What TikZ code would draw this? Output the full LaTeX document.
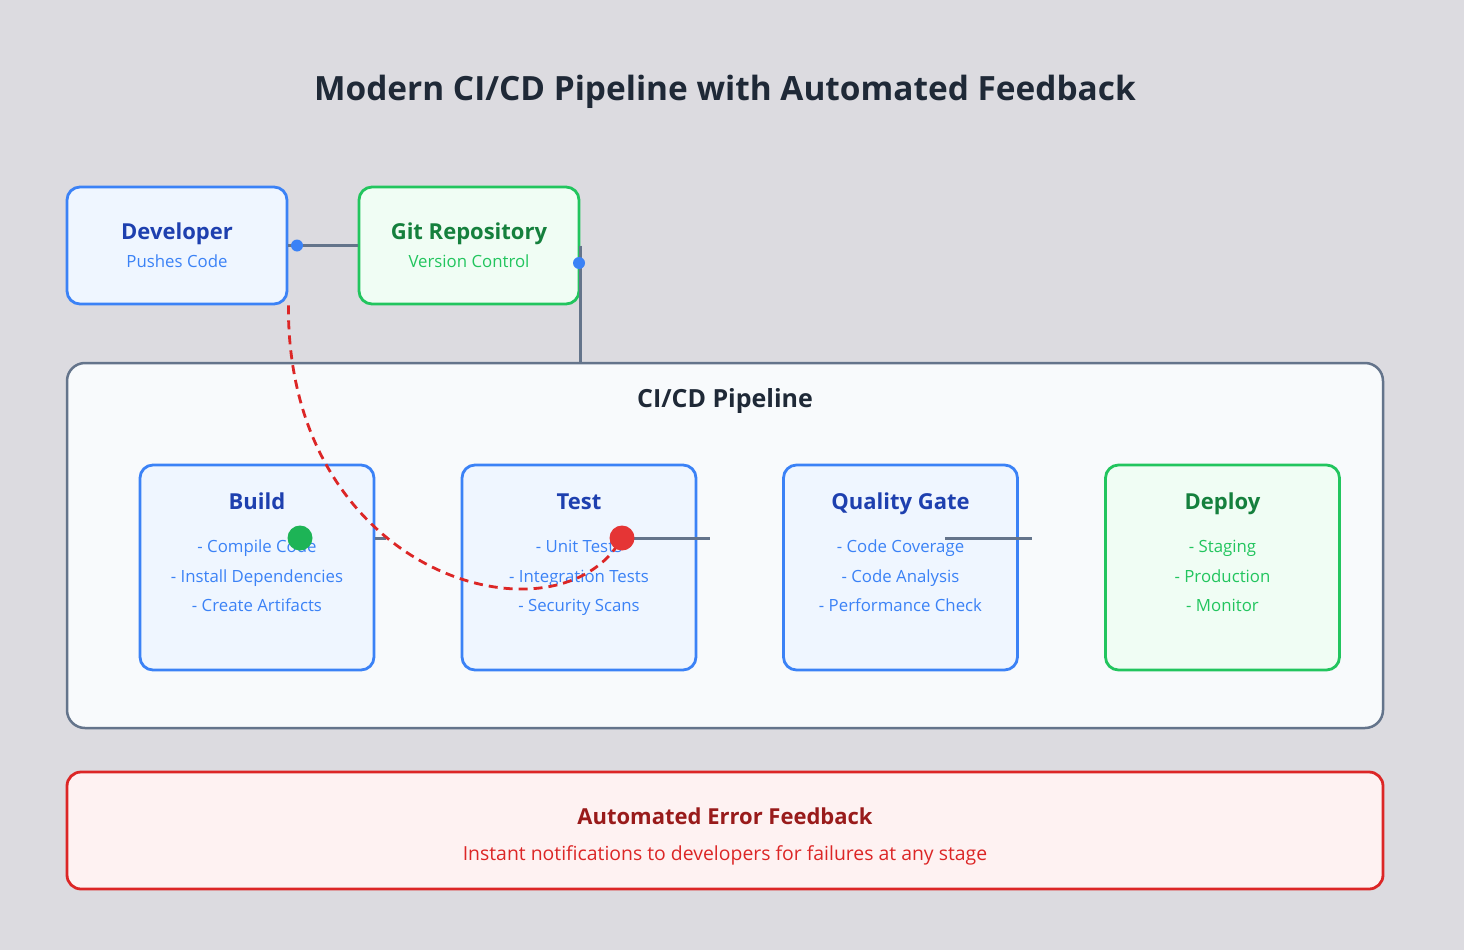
\documentclass[tikz,border=0pt]{standalone}
\usepackage{fontspec}
\setmainfont{Open Sans}
\definecolor{bg}{HTML}{DCDBE0}
\definecolor{titlec}{HTML}{1F2937}
\definecolor{pipefill}{HTML}{F8FAFC}
\definecolor{slate}{HTML}{64748B}
\definecolor{bfill}{HTML}{EFF6FF}
\definecolor{bborder}{HTML}{3B82F6}
\definecolor{btitle}{HTML}{1E40AF}
\definecolor{gfill}{HTML}{F0FDF4}
\definecolor{gborder}{HTML}{22C55E}
\definecolor{gtitle}{HTML}{15803D}
\definecolor{rfill}{HTML}{FEF2F2}
\definecolor{rborder}{HTML}{DC2626}
\definecolor{rtitle}{HTML}{991B1B}
\definecolor{gdotc}{HTML}{1DB456}
\definecolor{rdotc}{HTML}{E53535}
\begin{document}
\begin{tikzpicture}[x=1pt,y=-1pt,
  bluebox/.style={draw=bborder, fill=bfill, line width=2.8pt, rounded corners=13pt, inner sep=0pt},
  greenbox/.style={draw=gborder, fill=gfill, line width=2.8pt, rounded corners=13pt, inner sep=0pt},
  topsize/.style={minimum width=220pt, minimum height=117pt},
  stagesize/.style={minimum width=234pt, minimum height=205pt},
  ttl/.style={anchor=base, font=\fontsize{22}{26}\selectfont\bfseries},
  sub/.style={anchor=base, font=\fontsize{16.8}{20}\selectfont},
  conn/.style={draw=slate, line width=3pt},
  bdot/.style={circle, fill=bborder, inner sep=0pt, minimum size=12pt},
  bigdot/.style={circle, inner sep=0pt, minimum size=25pt},
  feedback/.style={draw=rborder, line width=2.8pt, dash pattern=on 9pt off 6pt}
]
\path[use as bounding box, fill=bg] (0,0) rectangle (1464,950);

% title
\node[anchor=base, text=titlec, font=\fontsize{33.4}{40}\selectfont\bfseries] (title) at (725,100) {Modern CI/CD Pipeline with Automated Feedback};

% top nodes
\node[bluebox, topsize] (dev) at (177,245.5) {};
\node[ttl, text=btitle] (devt) at (177,239) {Developer};
\node[sub, text=bborder] (devs) at (177,267) {Pushes Code};

\node[greenbox, topsize] (git) at (469,245.5) {};
\node[ttl, text=gtitle] (gitt) at (469,239) {Git Repository};
\node[sub, text=gborder] (gits) at (469,267) {Version Control};

% pipeline container
\node[draw=slate, fill=pipefill, line width=2.5pt, rounded corners=18pt, minimum width=1316pt, minimum height=365pt, inner sep=0pt] (pipe) at (725,545.5) {};
\node[anchor=base, text=titlec, font=\fontsize{25}{30}\selectfont\bfseries] (pipet) at (725,407) {CI/CD Pipeline};

% stages
\node[bluebox, stagesize] (build) at (257,567.5) {};
\node[ttl, text=btitle] (buildt) at (257,509) {Build};
\node[sub, text=bborder] (build1) at (257,552) {- Compile Code};
\node[sub, text=bborder] (build2) at (257,582) {- Install Dependencies};
\node[sub, text=bborder] (build3) at (257,611) {- Create Artifacts};

\node[bluebox, stagesize] (test) at (579,567.5) {};
\node[ttl, text=btitle] (testt) at (579,509) {Test};
\node[sub, text=bborder] (test1) at (579,552) {- Unit Tests};
\node[sub, text=bborder] (test2) at (579,582) {- Integration Tests};
\node[sub, text=bborder] (test3) at (579,611) {- Security Scans};

\node[bluebox, stagesize] (qg) at (900.5,567.5) {};
\node[ttl, text=btitle] (qgt) at (900.5,509) {Quality Gate};
\node[sub, text=bborder] (qg1) at (900.5,552) {- Code Coverage};
\node[sub, text=bborder] (qg2) at (900.5,582) {- Code Analysis};
\node[sub, text=bborder] (qg3) at (900.5,611) {- Performance Check};

\node[greenbox, stagesize] (deploy) at (1222.5,567.5) {};
\node[ttl, text=gtitle] (deployt) at (1222.5,509) {Deploy};
\node[sub, text=gborder] (deploy1) at (1222.5,552) {- Staging};
\node[sub, text=gborder] (deploy2) at (1222.5,582) {- Production};
\node[sub, text=gborder] (deploy3) at (1222.5,611) {- Monitor};

% error feedback box
\node[draw=rborder, fill=rfill, line width=2.8pt, rounded corners=14pt, minimum width=1316pt, minimum height=117pt, inner sep=0pt] (err) at (725,830.5) {};
\node[ttl, text=rtitle] (errt) at (725,824) {Automated Error Feedback};
\node[anchor=base, text=rborder, font=\fontsize{19.4}{23}\selectfont] (errs) at (725,860) {Instant notifications to developers for failures at any stage};

% connectors
\coordinate (gitdot) at (579,263);
\coordinate (bstub) at (386,538);
\coordinate (tend) at (710,538);
\coordinate (qa) at (945,538);
\coordinate (qb) at (1032,538);
\draw[conn] (dev.east) -- (git.west);
\draw[conn] (git.east) -- (git.east |- pipe.north);
\draw[conn] (build.east |- bstub) -- (bstub);
\draw[conn] (qa) -- (qb);

\node[bdot] (d1) at (297,245.5) {};
\node[bdot] (d2) at (gitdot) {};

\node[bigdot] (reddotpos) at (622,538) {};
\draw[conn] (reddotpos.center) -- (tend);
\draw[feedback] (dev.south east) .. controls (287,580) and (560,650) .. (reddotpos.center);

\node[bigdot, fill=gdotc] (greendot) at (300,538) {};
\node[bigdot, fill=rdotc] (reddot) at (622,538) {};
\end{tikzpicture}
\end{document}
